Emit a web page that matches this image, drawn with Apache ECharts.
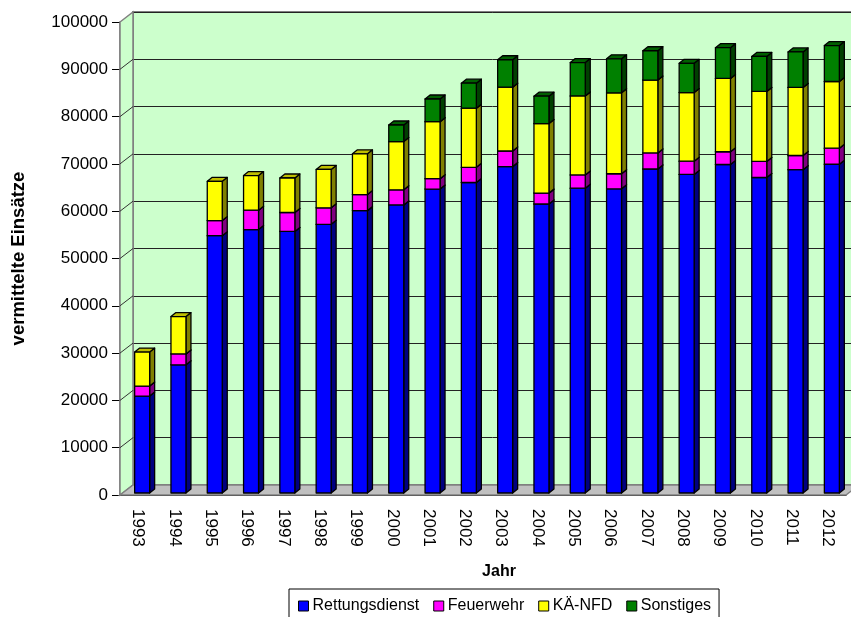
<!DOCTYPE html>
<html>
<head>
<meta charset="utf-8">
<script src="https://cdn.jsdelivr.net/npm/echarts@6/dist/echarts.min.js"></script>
<style>
  html, body { margin: 0; padding: 0; background: #fff; }
  #chart { width: 851px; height: 617px; }
</style>
</head>
<body>
<div id="chart"></div>
<script>
// Vermittelte Einsätze je Jahr, gestapelt nach Einsatzart
const years = ['1993', '1994', '1995', '1996', '1997', '1998', '1999', '2000', '2001', '2002',
               '2003', '2004', '2005', '2006', '2007', '2008', '2009', '2010', '2011', '2012'];
const rettungsdienst = [20500, 27100, 54400, 55700, 55300, 56800, 59700, 60900, 64250, 65650,
                        69000, 61100, 64450, 64300, 68500, 67350, 69450, 66700, 68350, 69500];
const feuerwehr = [2100, 2300, 3200, 4100, 4000, 3500, 3400, 3200, 2200, 3200,
                   3300, 2300, 2800, 3200, 3400, 2800, 2700, 3400, 3000, 3400];
const kaeNfd = [7200, 7900, 8300, 7300, 7300, 8100, 8600, 10200, 12050, 12500,
                13500, 14700, 16700, 17100, 15400, 14500, 15500, 14800, 14400, 14100];
const sonstiges = [0, 0, 0, 0, 0, 0, 0, 3500, 4800, 5300,
                   5800, 5800, 7050, 7200, 6200, 6200, 6500, 7400, 7500, 7600];

const seriesDefs = [
  { name: 'Rettungsdienst', values: rettungsdienst, face: '#0000FF', side: '#000080', top: '#0000C0' },
  { name: 'Feuerwehr',      values: feuerwehr,      face: '#FF00FF', side: '#800080', top: '#C000C0' },
  { name: 'KÄ-NFD',         values: kaeNfd,         face: '#FFFF00', side: '#808000', top: '#BFBF00' },
  { name: 'Sonstiges',      values: sonstiges,      face: '#008000', side: '#004000', top: '#006000' }
];

// pseudo-3D geometry: wall depth and column depth
const WALL_DX = 13, WALL_DY = -10;
const COL_DX = 5, COL_DY = -4;
const COL_SHIFT_X = 4, COL_SHIFT_Y = -2;
const COL_WIDTH = 0.413;

const FONT = '"Liberation Sans", Arial, sans-serif';

// stacked ranges per category
const cumulative = years.map(() => 0);
const stackedSeries = seriesDefs.map(def => {
  const data = def.values.map((v, i) => {
    const lo = cumulative[i];
    cumulative[i] += v;
    return [i, lo, cumulative[i]];
  });
  return { def, data };
});

function columnRenderer(def) {
  return function (params, api) {
    const i = api.value(0), lo = api.value(1), hi = api.value(2);
    if (!(hi > lo)) return null;
    const w = api.size([1, 0])[0] * COL_WIDTH;
    const pHi = api.coord([i, hi]);
    const pLo = api.coord([i, lo]);
    const cx = pHi[0] + COL_SHIFT_X;
    const x0 = cx - w / 2, x1 = cx + w / 2;
    const yT = pHi[1] + COL_SHIFT_Y, yB = pLo[1] + COL_SHIFT_Y;
    const stroke = { stroke: '#000', lineWidth: 1.3, lineJoin: 'round' };
    return {
      type: 'group',
      children: [
        { type: 'polygon', shape: { points: [[x1, yB], [x1 + COL_DX, yB + COL_DY], [x1 + COL_DX, yT + COL_DY], [x1, yT]] },
          style: Object.assign({ fill: def.side }, stroke) },
        { type: 'polygon', shape: { points: [[x0, yT], [x0 + COL_DX, yT + COL_DY], [x1 + COL_DX, yT + COL_DY], [x1, yT]] },
          style: Object.assign({ fill: def.top }, stroke) },
        { type: 'rect', shape: { x: x0, y: yT, width: x1 - x0, height: yB - yT },
          style: Object.assign({ fill: def.face }, stroke) }
      ]
    };
  };
}

// side wall, floor and the diagonal tick lines on the side wall
function wallRenderer(params, api) {
  const cs = params.coordSys;
  const left = cs.x, right = cs.x + cs.width;
  const y0 = api.coord([0, 0])[1];
  const yMax = api.coord([0, 100000])[1];
  const children = [
    { type: 'polygon', shape: { points: [[left, yMax], [left + WALL_DX, yMax + WALL_DY], [left + WALL_DX, y0 + WALL_DY], [left, y0]] },
      style: { fill: '#CCFFCC', stroke: '#808080', lineWidth: 1.5 } },
    { type: 'polygon', shape: { points: [[left, y0], [left + WALL_DX, y0 + WALL_DY], [right + WALL_DX, y0 + WALL_DY], [right, y0]] },
      style: { fill: '#C0C0C0', stroke: '#808080', lineWidth: 1.5 } }
  ];
  for (let v = 10000; v < 100000; v += 10000) {
    const y = api.coord([0, v])[1];
    children.push({ type: 'line', shape: { x1: left, y1: y, x2: left + WALL_DX, y2: y + WALL_DY },
      style: { stroke: '#333', lineWidth: 1 } });
  }
  return { type: 'group', children };
}

const chart = echarts.init(document.getElementById('chart'), null, { renderer: 'canvas' });

const option = {
  animation: false,
  textStyle: { fontFamily: FONT },
  grid: [
    { left: 120, top: 22, width: 726, height: 473, outerBoundsMode: 'none', containLabel: false },
    { left: 120 + WALL_DX, top: 22 + WALL_DY, width: 726, height: 473, outerBoundsMode: 'none', containLabel: false,
      show: true, backgroundColor: '#CCFFCC', borderColor: '#808080', borderWidth: 2 }
  ],
  xAxis: [
    { type: 'category', gridIndex: 0, data: years,
      name: 'Jahr', nameLocation: 'middle', nameGap: 69,
      nameTextStyle: { fontFamily: FONT, fontWeight: 'bold', fontSize: 16, color: '#000', padding: [0, 0, 0, 32] },
      axisLine: { lineStyle: { color: '#000', width: 1 } },
      axisTick: { length: 9, lineStyle: { color: '#000' } },
      axisLabel: { interval: 0, rotate: -90, margin: 14, fontSize: 17, color: '#000', fontFamily: FONT },
      splitLine: { show: false } },
    { type: 'category', gridIndex: 1, data: years, show: false }
  ],
  yAxis: [
    { type: 'value', gridIndex: 0, min: 0, max: 100000, interval: 10000,
      name: 'vermittelte Einsätze', nameLocation: 'middle', nameGap: 92,
      nameTextStyle: { fontFamily: FONT, fontWeight: 'bold', fontSize: 18.5, color: '#000' },
      axisLine: { show: true, lineStyle: { color: '#707070', width: 1.5 } },
      axisTick: { show: true, length: 8, lineStyle: { color: '#000' } },
      axisLabel: { margin: 12, fontSize: 17, color: '#000', fontFamily: FONT,
                   formatter: v => String(v) },
      splitLine: { show: false } },
    { type: 'value', gridIndex: 1, min: 0, max: 100000, interval: 10000,
      axisLine: { show: false }, axisTick: { show: false }, axisLabel: { show: false },
      splitLine: { show: true, lineStyle: { color: '#222', width: 1 } } }
  ],
  legend: {
    left: 289, top: 589,
    padding: [9, 8, 10, 9],
    itemWidth: 10, itemHeight: 10, itemGap: 14,
    borderColor: '#000', borderWidth: 1, backgroundColor: '#fff',
    icon: 'rect',
    itemStyle: { borderColor: '#000', borderWidth: 1 },
    textStyle: { fontFamily: FONT, fontSize: 16, color: '#000', padding: [0, 0, 0, -1] },
    data: seriesDefs.map(d => d.name)
  },
  series: [
    { type: 'custom', name: '_walls', xAxisIndex: 0, yAxisIndex: 0, z: 1, silent: true,
      data: [[0]], renderItem: wallRenderer, clip: false }
  ].concat(stackedSeries.map(s => ({
    type: 'custom', name: s.def.name, xAxisIndex: 0, yAxisIndex: 0, z: 3,
    itemStyle: { color: s.def.face, borderColor: '#000', borderWidth: 1 },
    encode: { x: 0, y: 2 },
    data: s.data,
    renderItem: columnRenderer(s.def),
    clip: false
  })))
};

chart.setOption(option);
</script>
</body>
</html>
